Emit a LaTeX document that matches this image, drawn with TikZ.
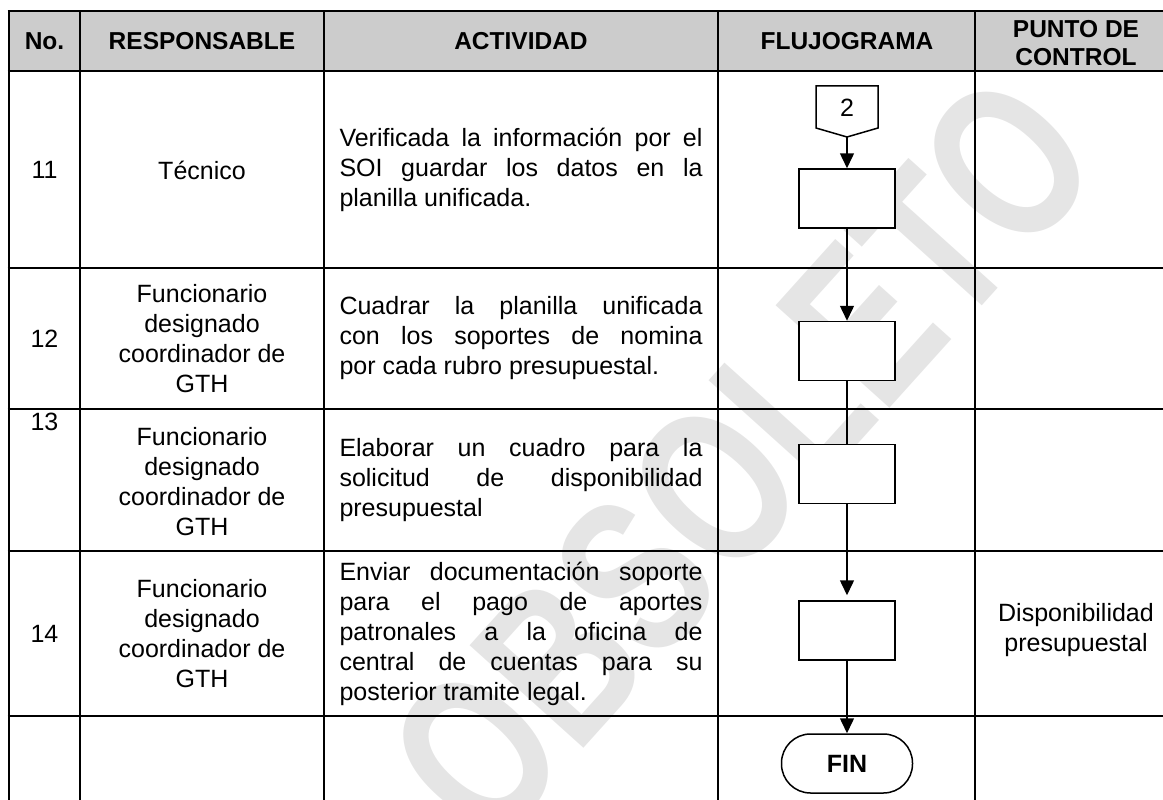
\documentclass[tikz,border=0pt]{standalone}
\usepackage{fontspec}
\setmainfont{Liberation Sans}
\usetikzlibrary{arrows.meta}

\begin{document}
\begin{tikzpicture}[x=1pt, y=-1pt,
		every node/.style={font=\fontsize{25}{30}\selectfont, inner sep=0pt},
		celda/.style={align=center},
		titulo/.style={font=\fontsize{24.5}{28}\selectfont\bfseries, align=center},
		actividad/.style={text width=363pt, align=justify},
		proceso/.style={draw, line width=1.5pt, fill=white, minimum width=96pt, minimum height=59pt},
		terminal/.style={draw, line width=1.5pt, fill=white, rounded corners=29pt, minimum width=131pt, minimum height=59pt, font=\fontsize{25}{30}\selectfont\bfseries},
		flecha/.style={line width=1.5pt, -{Triangle[width=14pt,length=15pt]}},
		linea/.style={line width=2.8pt}]
		\useasboundingbox (0,0) rectangle (1163,800);
		
		%column borders
		\def\xA{9};
		\def\xB{80};
		\def\xC{324};
		\def\xD{718};
		\def\xE{975};
		\def\xF{1163};
		
		%row borders
		\def\yA{11};
		\def\yB{71};
		\def\yC{268};
		\def\yD{409};
		\def\yE{551};
		\def\yF{716};
		\def\yG{800};
		
		%watermark
		\node [rotate=48, yscale=1.35, text=black!10, font=\fontsize{165}{165}\selectfont\bfseries] (marca) at (742,458) {OBSOLETO};
		
		%table
		\fill [black!20] (\xA,\yA) rectangle (\xF,\yB);
		\foreach \y in {\yA,\yB,\yC,\yD,\yE,\yF}
			\draw [linea] (\xA-1.4,\y) -- (\xF,\y);
		\foreach \x in {\xA,\xB,\xC,\xD,\xE}
			\draw [linea] (\x,\yA) -- (\x,\yG);
		
		%header
		\node [titulo] (hno) at (44.5,41) {No.};
		\node [titulo] (hresp) at (202,41) {RESPONSABLE};
		\node [titulo] (hact) at (521,41) {ACTIVIDAD};
		\node [titulo] (hflujo) at (847,41) {FLUJOGRAMA};
		\node [titulo] (hpunto) at (1076,43) {PUNTO DE\\CONTROL};
		
		%row 11
		\node (n11) at (44.5,170) {11};
		\node [celda] (r11) at (202,170) {Técnico};
		\node [actividad] (a11) at (521,170) {Verificada la información por el\linebreak SOI guardar los datos en la\linebreak planilla unificada.};
		
		%row 12
		\node (n12) at (44.5,338.5) {12};
		\node [celda] (r12) at (202,338.5) {Funcionario\\designado\\coordinador de\\GTH};
		\node [actividad] (a12) at (521,338.5) {Cuadrar la planilla unificada\linebreak con los soportes de nomina\linebreak por cada rubro presupuestal.};
		
		%row 13
		\node [anchor=north] (n13) at (44.5,413) {13};
		\node [celda] (r13) at (202,482) {Funcionario\\designado\\coordinador de\\GTH};
		\node [actividad] (a13) at (521,480) {Elaborar un cuadro para la\linebreak solicitud de disponibilidad\linebreak presupuestal};
		
		%row 14
		\node (n14) at (44.5,633.5) {14};
		\node [celda] (r14) at (202,633.5) {Funcionario\\designado\\coordinador de\\GTH};
		\node [actividad] (a14) at (521,633.5) {Enviar documentación soporte\linebreak para el pago de aportes\linebreak patronales a la oficina de\linebreak central de cuentas para su\linebreak posterior tramite legal.};
		\node [celda] (c14) at (1076,630) {Disponibilidad\\presupuestal};
		
		%flowchart
		\filldraw [line width=1.5pt, fill=white] (816,86) -- (878,86) -- (878,128) -- (847,137) -- (816,128) -- cycle;
		\node (dos) at (847,108) {2};
		\coordinate (dosfin) at (847,137);
		\node [proceso] (p11) at (847,198.5) {};
		\node [proceso] (p12) at (847,351) {};
		\node [proceso] (p13) at (847,474) {};
		\node [proceso] (p14) at (847,630.5) {};
		\node [terminal] (fin) at (847,763.5) {FIN};
		
		\draw [flecha] (dosfin) -- (p11);
		\draw [flecha] (p11) -- (p12);
		\draw [line width=1.5pt] (p12) -- (p13);
		\draw [flecha, shorten >=5pt] (p13) -- (p14);
		\draw [flecha] (p14) -- (fin);
	\end{tikzpicture}
\end{document}
